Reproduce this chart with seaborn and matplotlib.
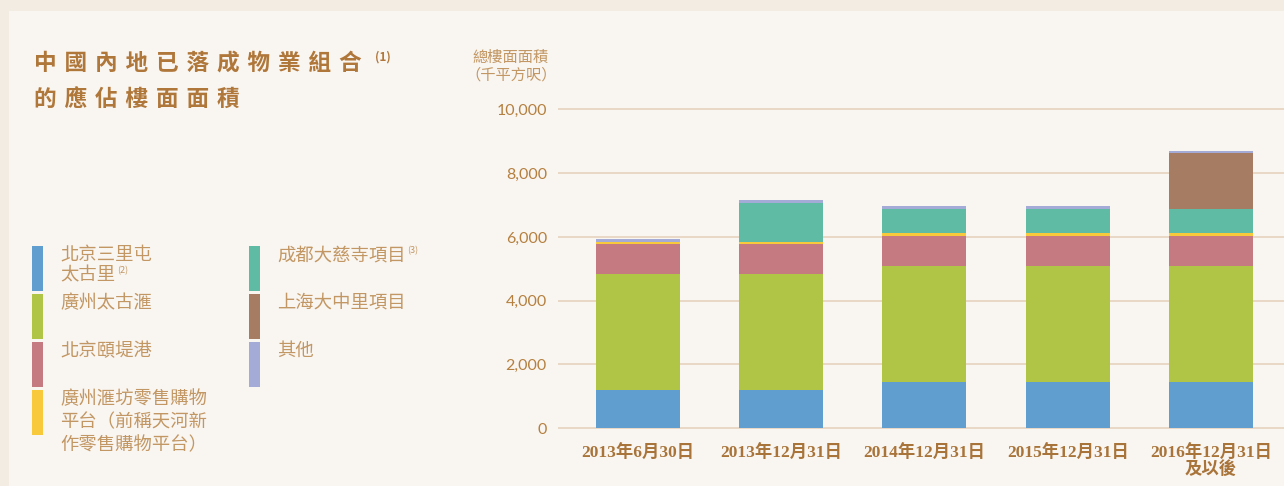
import matplotlib
matplotlib.use("Agg")
import matplotlib.pyplot as plt
import seaborn as sns
import numpy as np
from matplotlib.patches import Rectangle

# ---------------- data ----------------
categories = ["2013年6月30日", "2013年12月31日", "2014年12月31日",
              "2015年12月31日", "2016年12月31日\n及以後"]
sanlitun = [1200, 1200, 1450, 1450, 1450]
taikoo_hui = [3630, 3630, 3630, 3630, 3630]
indigo = [940, 940, 940, 940, 940]
hui_fang = [60, 60, 95, 95, 95]
chengdu = [0, 1220, 750, 750, 750]
dazhongli = [0, 0, 0, 0, 1760]
others = [95, 95, 95, 95, 60]
y_ticks = [0, 2000, 4000, 6000, 8000, 10000]
y_tick_labels = ["0", "2,000", "4,000", "6,000", "8,000", "10,000"]

series = [sanlitun, taikoo_hui, indigo, hui_fang, chengdu, dazhongli, others]
colors = ["#5f9ecf", "#b0c446", "#c57a82", "#f9c93c", "#5fbba4", "#a67c62", "#a5abd7"]

legend_left = [
    (["北京三里屯", "太古里"], "(2)"),
    (["廣州太古滙"], None),
    (["北京頤堤港"], None),
    (["廣州滙坊零售購物", "平台（前稱天河新", "作零售購物平台）"], None),
]
legend_right = [
    (["成都大慈寺項目"], "(3)"),
    (["上海大中里項目"], None),
    (["其他"], None),
]
title_lines = ["中國內地已落成物業組合", "的應佔樓面面積"]
ylabel_lines = ["總樓面面積", "（千平方呎）"]

# ---------------- style ----------------
sns.set_theme(style="white")
CJK = ["Noto Sans CJK TC", "DejaVu Sans"]
plt.rcParams["font.family"] = CJK

W, H = 1284, 486
fig = plt.figure(figsize=(W / 100, H / 100), dpi=100)
fig.patch.set_facecolor("#f3ece3")
fig.patches.append(Rectangle((9 / W, 0), 1, 1 - 11 / H, transform=fig.transFigure,
                             facecolor="#f9f5f1", edgecolor="none", zorder=-10))

def fx(x):
    return x / W

def fy(y):
    return 1 - y / H

# axes: y=0 at px 428, 1000 units = 31.85 px
ppu = 0.03185
ymin, ymax = -100, 10300
bot_px = 428 + (0 - ymin) * ppu
top_px = 428 - ymax * ppu
ax = fig.add_axes([fx(558), fy(bot_px), 1 - fx(558), (bot_px - top_px) / H])
ax.patch.set_alpha(0)
ax.set_zorder(2)

bottom = np.zeros(len(categories))
for vals, col in zip(series, colors):
    sns.barplot(x=categories, y=vals, bottom=bottom, color=col, saturation=1,
                width=0.586, errorbar=None, order=categories, ax=ax,
                linewidth=0, zorder=3)
    bottom = bottom + np.array(vals)

ax.set_xlim(-0.558, 4.51)
ax.set_ylim(ymin, ymax)
ax.set_yticks(y_ticks)
ax.set_yticklabels(y_tick_labels)
ax.yaxis.grid(True, color="#e8d8c4", linewidth=1.4, zorder=0)
ax.xaxis.grid(False)
ax.set_axisbelow(True)
for s in ax.spines.values():
    s.set_visible(False)
ax.set_xlabel("")
ax.set_ylabel("")
ax.tick_params(axis="y", length=0, pad=8, labelsize=11.5, labelcolor="#b5803f")
ax.tick_params(axis="x", length=0, pad=10, labelsize=12.5, labelcolor="#a8743a")
for lab in ax.get_yticklabels():
    lab.set_fontfamily(["Lato", "DejaVu Sans"])
for lab in ax.get_xticklabels():
    lab.set_fontfamily(["Liberation Serif", "Noto Sans CJK TC"])
    lab.set_fontweight("bold")
    lab.set_linespacing(0.95)

# ---------------- title ----------------
title_color = "#b0773a"
TFAM = ["DejaVu Sans", "Noto Sans CJK TC"]
fig.text(fx(34), fy(63), " ".join(title_lines[0]), fontsize=16.3, fontweight="bold",
         color=title_color, ha="left", va="center", family=TFAM)
fig.text(fx(34), fy(100), " ".join(title_lines[1]), fontsize=16.3, fontweight="bold",
         color=title_color, ha="left", va="center", family=TFAM)
fig.text(fx(375), fy(57), "(1)", fontsize=8.5, fontweight="bold", color=title_color,
         ha="left", va="center", family=CJK)

# ---------------- y label ----------------
text_color = "#c29763"
fig.text(fx(511), fy(57), ylabel_lines[0], fontsize=11, color=text_color,
         ha="center", va="center", family=CJK)
fig.text(fx(511), fy(75), ylabel_lines[1], fontsize=11, color=text_color,
         ha="center", va="center", family=CJK)

# ---------------- legend ----------------
sw_tops = [246, 294, 342, 390]
sw_h = 45
line_gap = [20, 20, 20, 23.3]
LFS = 13.2

def draw_item(xs, xt, top, col, lines, sup, gap):
    fig.patches.append(Rectangle((fx(xs), fy(top + sw_h)), 11 / W, sw_h / H,
                                 transform=fig.transFigure, facecolor=col,
                                 edgecolor="none", zorder=1))
    for i, ln in enumerate(lines):
        fig.text(fx(xt), fy(top + 9 + i * gap), ln, fontsize=LFS, color=text_color,
                 ha="left", va="center", family=CJK)
    if sup is not None:
        n = len(lines[-1])
        fig.text(fx(xt + n * LFS * 100 / 72 + 2), fy(top + 5 + (len(lines) - 1) * gap), sup,
                 fontsize=6.5, color=text_color, ha="left", va="center", family=CJK)

for i, (lines, sup) in enumerate(legend_left):
    draw_item(32, 60, sw_tops[i], colors[i], lines, sup, line_gap[i])
right_cols = [colors[4], colors[5], colors[6]]
for i, (lines, sup) in enumerate(legend_right):
    draw_item(249, 277, sw_tops[i], right_cols[i], lines, sup, 20)

fig.savefig("out.png", dpi=100, facecolor=fig.get_facecolor())
